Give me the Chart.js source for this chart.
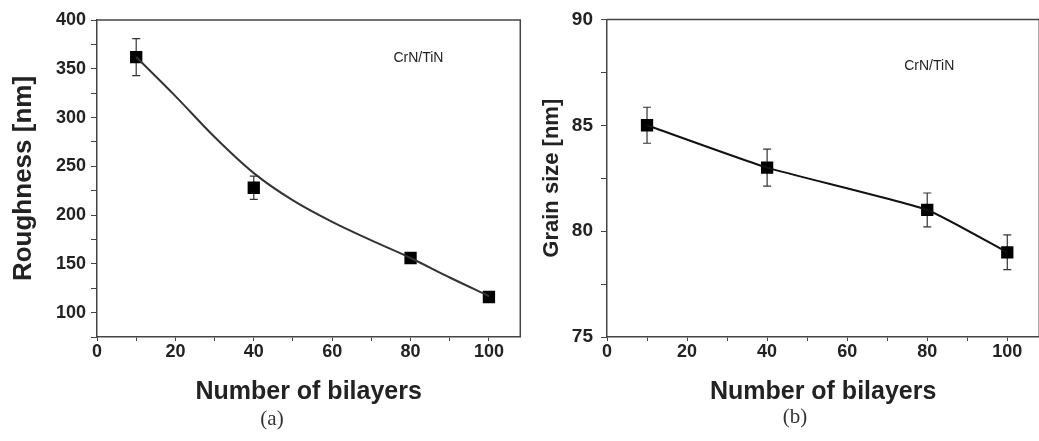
<!DOCTYPE html>
<html>
<head>
<meta charset="utf-8">
<script src="https://cdn.jsdelivr.net/npm/chart.js@4.4.0/dist/chart.umd.min.js"></script>
<style>
    body { margin: 0; background: #fff; }
    #contenedor { position: relative; width: 1039px; height: 441px; overflow: hidden; background: #fff; }
    canvas { position: absolute; top: 0; }
    #grafica_a { left: 0; }
    #grafica_b { left: 522px; }
    .etiqueta { position: absolute; font-family: "Liberation Serif", serif; font-size: 21px; color: #333;
        transform: translate(-50%, -50%); }
</style>
</head>
<body>
<div id="contenedor">
    <canvas id="grafica_b" width="526" height="441"></canvas>
    <canvas id="grafica_a" width="529" height="441"></canvas>
    <div class="etiqueta" style="left:272px;top:418px">(a)</div>
    <div class="etiqueta" style="left:795px;top:416px">(b)</div>
</div>
<script>
// Datos (numero de bicapas CrN/TiN).
var bicapas = [10, 40, 80, 100];
var rugosidad = [362, 228, 156, 116];
var errRugosidad = [19, 12, 5, 4];
var ajusteX = [10, 20, 30, 40, 50, 60, 70, 80, 90, 100];
var ajusteRugosidad = [362, 322, 280, 243, 215, 193, 174, 156, 136, 117];
var tamGrano = [85.0, 83.0, 81.0, 79.0];
var errTamGrano = [0.85, 0.87, 0.8, 0.82];
var ticksX = [0, 20, 40, 60, 80, 100];
var ticksRugosidad = [100, 150, 200, 250, 300, 350, 400];
var ticksGrano = [75, 80, 85, 90];
var muestra = 'CrN/TiN';

var colorEje = '#444';
var colorTexto = '#222';

// Dibuja las barras de error de los datasets que traen 'errores'.
var barrasError = {
    id: 'barrasError',
    beforeDatasetsDraw: function (chart) {
        var ctx = chart.ctx;
        var sx = chart.scales.x;
        var sy = chart.scales.y;
        ctx.save();
        ctx.strokeStyle = '#333';
        ctx.lineWidth = 1.2;
        chart.data.datasets.forEach(function (ds) {
            if (!ds.errores) return;
            for (var i = 0; i < ds.data.length; i++) {
                var px = sx.getPixelForValue(ds.data[i].x);
                var top = sy.getPixelForValue(ds.data[i].y + ds.errores[i]);
                var bot = sy.getPixelForValue(ds.data[i].y - ds.errores[i]);
                ctx.beginPath();
                ctx.moveTo(px, top); ctx.lineTo(px, bot);
                ctx.moveTo(px - 4, top); ctx.lineTo(px + 4, top);
                ctx.moveTo(px - 4, bot); ctx.lineTo(px + 4, bot);
                ctx.stroke();
            }
        });
        ctx.restore();
    }
};

// Completa el marco (lado superior y derecho) y escribe la anotacion.
var marco = {
    id: 'marco',
    afterDraw: function (chart) {
        var a = chart.chartArea;
        var ctx = chart.ctx;
        ctx.save();
        ctx.strokeStyle = colorEje;
        ctx.lineWidth = 1.5;
        ctx.beginPath();
        ctx.moveTo(a.left, a.top); ctx.lineTo(a.right, a.top); ctx.lineTo(a.right, a.bottom);
        ctx.stroke();
        var nota = chart.options.plugins.marco;
        if (nota && nota.texto) {
            ctx.fillStyle = '#222';
            ctx.font = '14px "Liberation Sans", Arial, sans-serif';
            ctx.textAlign = 'center';
            ctx.textBaseline = 'middle';
            ctx.fillText(nota.texto, chart.scales.x.getPixelForValue(nota.x),
                chart.scales.y.getPixelForValue(nota.y));
        }
        ctx.restore();
    }
};

function getPuntos(xs, ys) {
    var puntos = [];
    for (var i = 0; i < xs.length; i++) {
        puntos.push({ x: xs[i], y: ys[i] });
    }
    return puntos;
}

// Opciones comunes de ejes para ambas graficas.
function getChartOptions(cfg) {
    return {
        responsive: false,
        animation: false,
        devicePixelRatio: 1,
        layout: { padding: cfg.padding },
        plugins: {
            legend: { display: false },
            tooltip: { enabled: false },
            marco: { texto: muestra, x: cfg.notaX, y: cfg.notaY }
        },
        scales: {
            x: {
                type: 'linear', min: 0, max: 108,
                afterFit: function (s) { s.height = 104; },
                border: { display: true, color: colorEje, width: 1.5 },
                grid: { drawOnChartArea: false, drawTicks: true, tickLength: 4, color: colorEje },
                ticks: {
                    stepSize: 10, includeBounds: false, autoSkip: false, maxRotation: 0, padding: 0,
                    color: colorTexto,
                    font: { family: '"Liberation Sans", Arial, sans-serif', size: 18, weight: 'bold' },
                    callback: function (v) { return ticksX.indexOf(v) >= 0 ? String(v) : ''; }
                },
                title: {
                    display: true, text: 'Number of bilayers', color: colorTexto,
                    padding: { top: 0, bottom: 34 },
                    font: { family: '"Liberation Sans", Arial, sans-serif', size: 25, weight: 'bold' }
                }
            },
            y: {
                type: 'linear', min: cfg.minY, max: cfg.maxY,
                afterFit: function (s) { s.width = cfg.anchoY; },
                border: { display: true, color: colorEje, width: 1.5 },
                grid: { drawOnChartArea: false, drawTicks: true, tickLength: 6, color: colorEje },
                ticks: {
                    stepSize: cfg.pasoY, includeBounds: false, autoSkip: false, padding: cfg.padTicksY,
                    color: colorTexto,
                    font: { family: '"Liberation Sans", Arial, sans-serif', size: cfg.fuenteTicks, weight: 'bold' },
                    callback: function (v) { return cfg.ticksY.indexOf(v) >= 0 ? String(v) : ''; }
                },
                title: {
                    display: true, text: cfg.tituloY, color: colorTexto,
                    padding: { top: cfg.padTituloY, bottom: 0 },
                    font: { family: '"Liberation Sans", Arial, sans-serif', size: cfg.fuenteTitulo, weight: 'bold' }
                }
            }
        }
    };
}

// Grafica (a): rugosidad contra numero de bicapas.
new Chart(document.getElementById('grafica_a').getContext('2d'), {
    type: 'scatter',
    data: {
        datasets: [{
            type: 'line', data: getPuntos(ajusteX, ajusteRugosidad),
            borderColor: '#333', borderWidth: 2, pointRadius: 0, cubicInterpolationMode: 'monotone'
        }, {
            data: getPuntos(bicapas, rugosidad), errores: errRugosidad,
            pointStyle: 'rect', pointRadius: 8.7, backgroundColor: '#000', borderColor: '#000', borderWidth: 0
        }]
    },
    options: getChartOptions({
        padding: { top: 20, right: 4, bottom: 0, left: 0 },
        minY: 75, maxY: 400, pasoY: 25, ticksY: ticksRugosidad, anchoY: 97, padTicksY: 5,
        fuenteTicks: 18, tituloY: 'Roughness [nm]', fuenteTitulo: 26, padTituloY: 8,
        notaX: 82, notaY: 361
    }),
    plugins: [barrasError, marco]
});

// Grafica (b): tamano de grano contra numero de bicapas.
new Chart(document.getElementById('grafica_b').getContext('2d'), {
    type: 'scatter',
    data: {
        datasets: [{
            type: 'line', data: getPuntos(bicapas, tamGrano),
            borderColor: '#111', borderWidth: 2, pointRadius: 0, tension: 0.15
        }, {
            data: getPuntos(bicapas, tamGrano), errores: errTamGrano,
            pointStyle: 'rect', pointRadius: 8.7, backgroundColor: '#000', borderColor: '#000', borderWidth: 0
        }]
    },
    options: getChartOptions({
        padding: { top: 16, right: 1, bottom: 0, left: 0 },
        minY: 75, maxY: 90, pasoY: 2.5, ticksY: ticksGrano, anchoY: 85, padTicksY: 8,
        fuenteTicks: 19, tituloY: 'Grain size [nm]', fuenteTitulo: 22, padTituloY: 17,
        notaX: 80.5, notaY: 87.8
    }),
    plugins: [barrasError, marco]
});
</script>
</body>
</html>
